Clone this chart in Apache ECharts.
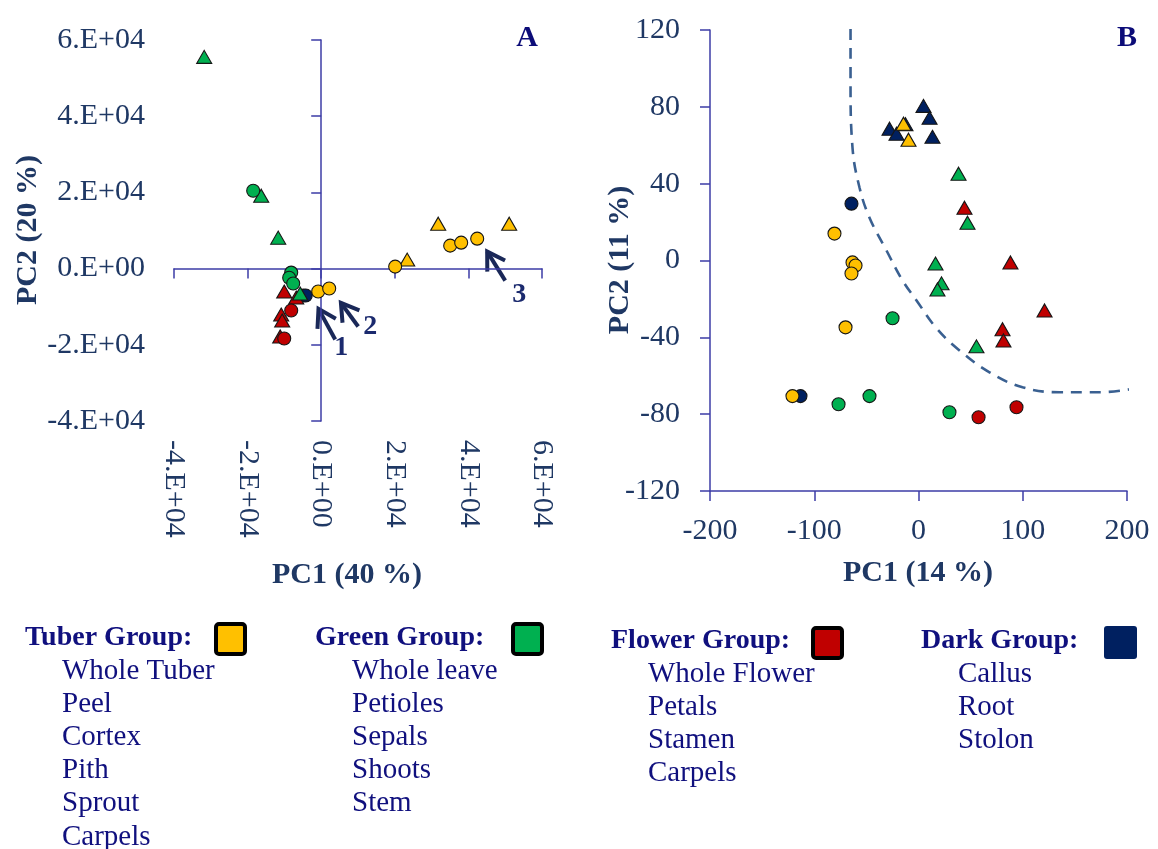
<!DOCTYPE html>
<html>
<head>
<meta charset="utf-8">
<script src="https://cdn.jsdelivr.net/npm/echarts@6/dist/echarts.min.js"></script>
<style>
  html, body { margin: 0; padding: 0; background: #ffffff; }
  #chart { width: 1158px; height: 849px; }
</style>
</head>
<body>
<div id="chart"></div>
<script>
// ---------- Panel A: PCA scores, PC1 (40 %) vs PC2 (20 %) ----------
const tuberCirclesA    = [[20100, 520], [35050, 6030], [38040, 6810], [42390, 7860], [-815, -6030], [2170, -5240]];
const tuberTrianglesA  = [[23370, 2360], [31790, 11790], [51080, 11790]];
const greenCirclesA    = [[-18480, 20440], [-8150, -1050], [-8700, -2400], [-7610, -3900]];
const greenTrianglesA  = [[-31790, 55570], [-16300, 19130], [-11680, 8125], [-5710, -6550]];
const flowerCirclesA   = [[-8150, -11000], [-10050, -18350]];
const flowerTrianglesA = [[-10050, -6030], [-6790, -7600], [-10870, -12060], [-10600, -13630], [-11140, -17820]];
const darkCirclesA     = [[-4890, -7080], [-4200, -7080]];

const ticksA      = [-40000, -20000, 0, 20000, 40000, 60000];
const tickLabelsA = ['-4.E+04', '-2.E+04', '0.E+00', '2.E+04', '4.E+04', '6.E+04'];

// numbered arrows in panel A: [tail, tip] in data units, and their labels
const arrowsA      = [[[3804, -18610], [-734, -10560]], [[10050, -15200], [5353, -8990]], [[50000, -3145], [45100, 4456]]];
const arrowLabelsA = [['1', 5434, -20700], ['2', 13310, -15200], ['3', 53800, -6815]];

// ---------- Panel B: PCA scores, PC1 (14 %) vs PC2 (11 %) ----------
const tuberCirclesB    = [[-80.6, 14.0], [-63.3, -1.0], [-60.4, -2.6], [-64.3, -6.8], [-70.0, -34.8], [-120.9, -70.6]];
const tuberTrianglesB  = [[-14.4, 71.2], [-9.6, 62.9]];
const greenCirclesB    = [[-24.9, -30.1], [-76.7, -74.8], [-47.0, -70.6], [29.7, -79.0]];
const greenTrianglesB  = [[38.4, 45.2], [47.0, 19.7], [16.3, -1.6], [22.1, -11.9], [18.2, -15.1], [55.6, -44.7]];
const flowerCirclesB   = [[57.6, -81.6], [94.0, -76.4]];
const flowerTrianglesB = [[44.1, 27.5], [88.2, -1.0], [120.9, -26.0], [80.6, -35.8], [81.5, -41.6]];
const darkCirclesB     = [[-64.3, 29.6], [-113.2, -70.6]];
const darkTrianglesB   = [[4.8, 80.5], [10.6, 74.3], [-27.8, 68.6], [-21.1, 66.0], [13.4, 64.4], [-12.5, 71.0]];

// dashed separating curve
const boundaryB = [[-65.2, 120.5], [-65.2, 92.5], [-63.3, 58.7], [-56.6, 38.0], [-47.0, 22.3], [-30.7, 5.2],
                   [-15.3, -10.4], [-1.9, -20.8], [17.3, -35.3], [39.3, -46.8], [68.1, -58.2], [99.8, -66.0],
                   [135.3, -68.6], [173.6, -68.6], [209.1, -66.5]];

// ---------- Legend content ----------
const groupTitles = ['Tuber Group:', 'Green Group:', 'Flower Group:', 'Dark Group:'];
const tuberParts  = ['Whole Tuber', 'Peel', 'Cortex', 'Pith', 'Sprout', 'Carpels'];
const greenParts  = ['Whole leave', 'Petioles', 'Sepals', 'Shoots', 'Stem'];
const flowerParts = ['Whole Flower', 'Petals', 'Stamen', 'Carpels'];
const darkParts   = ['Callus', 'Root', 'Stolon'];

const COL = { tuber: '#FFC000', green: '#00B050', flower: '#C00000', dark: '#002060' };
const FONT = '"Liberation Serif", "Times New Roman", serif';
const AXIS_BLUE = '#3d3da6';
const LABEL_NAVY = '#1f3864';
const TEXT_BLUE = '#10107e';

function pts(name, data, color, shape, xi, yi) {
  return {
    type: 'scatter', name, data, xAxisIndex: xi, yAxisIndex: yi,
    symbol: shape, symbolSize: shape === 'circle' ? 13 : [15, 13],
    itemStyle: { color, borderColor: '#161616', borderWidth: 1.1, opacity: 1 },
    emphasis: { disabled: true }, animation: false
  };
}

const lineStyle = { color: AXIS_BLUE, width: 1.5 };
const labelA = {
  color: LABEL_NAVY, fontFamily: FONT, fontSize: 30,
  formatter: v => { const i = ticksA.indexOf(v); return i >= 0 ? tickLabelsA[i] : ''; }
};

const option = {
  backgroundColor: '#ffffff',
  animation: false,
  grid: [
    { left: 174, top: 40, width: 368, height: 381 },
    { left: 710, top: 30, width: 417, height: 461 }
  ],
  xAxis: [
    { // panel A tick labels along the bottom
      gridIndex: 0, type: 'value', min: -40000, max: 60000, interval: 20000, position: 'bottom',
      axisLine: { show: false, onZero: false }, axisTick: { show: false }, splitLine: { show: false },
      axisLabel: Object.assign({ rotate: -90, margin: 19 }, labelA)
    },
    { // panel A axis line through y = 0
      gridIndex: 0, type: 'value', min: -40000, max: 60000, interval: 20000, position: 'top',
      axisLine: { show: true, onZero: true, lineStyle }, axisTick: { show: true, inside: true, length: 10, lineStyle },
      axisLabel: { show: false }, splitLine: { show: false }
    },
    { // panel B
      gridIndex: 1, type: 'value', min: -200, max: 200, interval: 100, position: 'bottom',
      axisLine: { show: true, onZero: false, lineStyle }, axisTick: { show: true, length: 10, lineStyle },
      splitLine: { show: false },
      axisLabel: { color: LABEL_NAVY, fontFamily: FONT, fontSize: 30, margin: 25 }
    }
  ],
  yAxis: [
    { // panel A tick labels on the left
      gridIndex: 0, type: 'value', min: -40000, max: 60000, interval: 20000, position: 'left',
      axisLine: { show: false, onZero: false }, axisTick: { show: false }, splitLine: { show: false },
      axisLabel: Object.assign({ margin: 29 }, labelA)
    },
    { // panel A axis line through x = 0
      gridIndex: 0, type: 'value', min: -40000, max: 60000, interval: 20000, position: 'right',
      axisLine: { show: true, onZero: true, lineStyle }, axisTick: { show: true, inside: true, length: 10, lineStyle },
      axisLabel: { show: false }, splitLine: { show: false }
    },
    { // panel B
      gridIndex: 1, type: 'value', min: -120, max: 120, interval: 40, position: 'left',
      axisLine: { show: true, onZero: false, lineStyle }, axisTick: { show: true, length: 10, lineStyle },
      splitLine: { show: false },
      axisLabel: { color: LABEL_NAVY, fontFamily: FONT, fontSize: 30, margin: 30 }
    }
  ],
  series: [
    pts('Dark', darkCirclesA, COL.dark, 'circle', 0, 0),
    pts('Flower', flowerTrianglesA, COL.flower, 'triangle', 0, 0),
    pts('Flower', flowerCirclesA, COL.flower, 'circle', 0, 0),
    pts('Green', greenTrianglesA, COL.green, 'triangle', 0, 0),
    pts('Green', greenCirclesA, COL.green, 'circle', 0, 0),
    pts('Tuber', tuberTrianglesA, COL.tuber, 'triangle', 0, 0),
    pts('Tuber', tuberCirclesA, COL.tuber, 'circle', 0, 0),
    {
      type: 'line', name: 'boundary', data: boundaryB, xAxisIndex: 2, yAxisIndex: 2,
      smooth: 0.4, showSymbol: false, clip: false, silent: true,
      lineStyle: { color: '#3a6091', width: 2.6, type: [11, 8] }
    },
    pts('Dark', darkTrianglesB, COL.dark, 'triangle', 2, 2),
    pts('Dark', darkCirclesB, COL.dark, 'circle', 2, 2),
    pts('Flower', flowerTrianglesB, COL.flower, 'triangle', 2, 2),
    pts('Flower', flowerCirclesB, COL.flower, 'circle', 2, 2),
    pts('Green', greenTrianglesB, COL.green, 'triangle', 2, 2),
    pts('Green', greenCirclesB, COL.green, 'circle', 2, 2),
    pts('Tuber', tuberTrianglesB, COL.tuber, 'triangle', 2, 2),
    pts('Tuber', tuberCirclesB, COL.tuber, 'circle', 2, 2)
  ]
};

const chart = echarts.init(document.getElementById('chart'), null, { renderer: 'canvas' });
chart.setOption(option);

// ---------- Texts, legend and arrows ----------
const g = [];
function text(str, x, y, font, color) {
  g.push({
    type: 'text', x, y, silent: true,
    style: { text: str, font, fill: color, align: 'left', verticalAlign: 'middle' }
  });
}
function centered(str, x, y, font, color, rot) {
  g.push({
    type: 'text', x, y, rotation: rot || 0, silent: true,
    style: { text: str, font, fill: color, align: 'center', verticalAlign: 'middle' }
  });
}

const titleFont = 'bold 30px ' + FONT;
centered('PC1 (40 %)', 347, 575, titleFont, LABEL_NAVY);
centered('PC2 (20 %)', 28, 230, titleFont, LABEL_NAVY, Math.PI / 2);
centered('PC1 (14 %)', 918, 573, titleFont, LABEL_NAVY);
centered('PC2 (11 %)', 620, 260, titleFont, LABEL_NAVY, Math.PI / 2);
centered('A', 527, 38, 'bold 30px ' + FONT, '#0c0c78');
centered('B', 1127, 38, 'bold 30px ' + FONT, '#0c0c78');

// legend columns
const legendLists = [tuberParts, greenParts, flowerParts, darkParts];
const legendColors = [COL.tuber, COL.green, COL.flower, COL.dark];
const colX = [25, 315, 611, 921];
const headY = [638, 638, 641, 641];
const firstItemY = [671, 671, 674, 674];
const boxes = [[216, 624], [513, 624], [813, 628], [1104, 626]];
legendLists.forEach((list, c) => {
  text(groupTitles[c], colX[c], headY[c], 'bold 28px ' + FONT, TEXT_BLUE);
  list.forEach((item, i) => text(item, colX[c] + 37, firstItemY[c] + i * 33.2, '29px ' + FONT, TEXT_BLUE));
  const bordered = c < 3;
  g.push({
    type: 'rect', silent: true,
    shape: bordered ? { x: boxes[c][0], y: boxes[c][1], width: 29, height: 30, r: 3 }
                    : { x: boxes[c][0], y: boxes[c][1], width: 33, height: 33, r: 3 },
    style: bordered ? { fill: legendColors[c], stroke: '#000000', lineWidth: 4 }
                    : { fill: legendColors[c] }
  });
});

// arrows pointing at samples in panel A
const toPx = p => chart.convertToPixel({ xAxisIndex: 0, yAxisIndex: 0 }, p);
const ARROW = '#1a2858';
arrowsA.forEach(([tail, tip]) => {
  const a = toPx(tail), b = toPx(tip);
  const dx = a[0] - b[0], dy = a[1] - b[1];
  const len = Math.hypot(dx, dy), ux = dx / len, uy = dy / len;
  const arm = 20, ang = 0.55;
  const rot = s => [b[0] + arm * (ux * Math.cos(s * ang) - uy * Math.sin(s * ang)),
                    b[1] + arm * (ux * Math.sin(s * ang) + uy * Math.cos(s * ang))];
  g.push({ type: 'polyline', silent: true, shape: { points: [a, b] },
           style: { stroke: ARROW, lineWidth: 4, fill: null } });
  g.push({ type: 'polyline', silent: true, shape: { points: [rot(1), b, rot(-1)] },
           style: { stroke: ARROW, lineWidth: 4, fill: null, lineJoin: 'miter' } });
});
arrowLabelsA.forEach(([s, x, y]) => {
  const p = toPx([x, y]);
  centered(s, p[0], p[1], 'bold 28px ' + FONT, '#1b2a6e');
});

chart.setOption({ graphic: g });
</script>
</body>
</html>
